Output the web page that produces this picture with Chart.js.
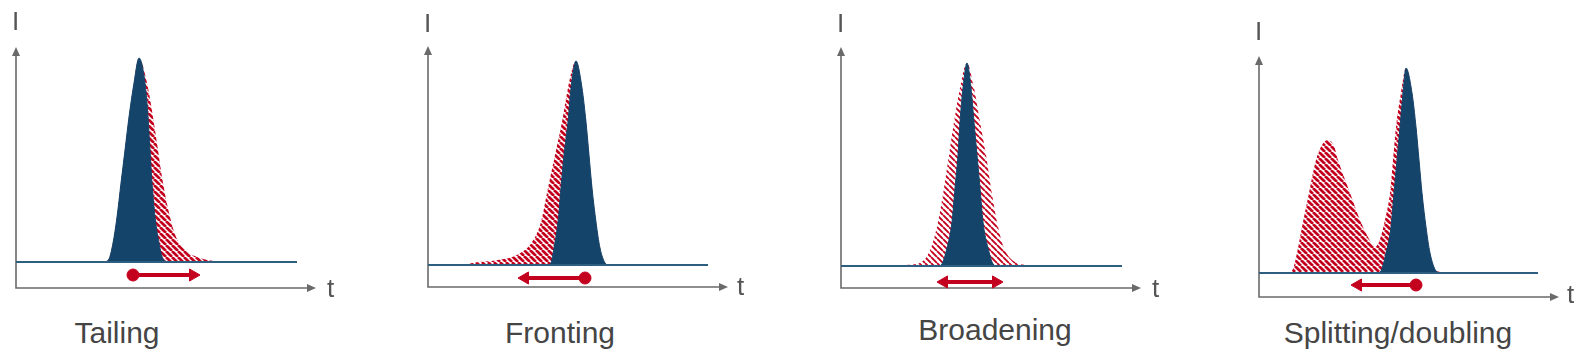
<!DOCTYPE html>
<html>
<head>
<meta charset="utf-8">
<script src="https://cdn.jsdelivr.net/npm/chart.js@4.4.1/dist/chart.umd.min.js"></script>
<style>
  html, body { margin: 0; padding: 0; background: #fff; }
  #stage { position: relative; width: 1587px; height: 356px; overflow: hidden;
           font-family: Arial, "Liberation Sans", sans-serif; color: #454545; }
  #stage canvas { position: absolute; }
  .lbl { position: absolute; font-size: 30px; line-height: 1; white-space: nowrap; transform: translateX(-50%); }
  .ax { position: absolute; font-size: 26px; line-height: 1; color: #555; }
</style>
</head>
<body>
<div id="stage"></div>
<script>
// --- Data: t = px right of the I axis, I = px above the t axis ---
const titles = ['Tailing', 'Fronting', 'Broadening', 'Splitting/doubling'];

const tailingIdeal = [[89,26],[93,29],[97,45],[101,71],[105,105],[109,138],[113,171],[118,205],[123,230],
  [129,205],[132,171],[134,138],[136,105],[139,71],[143,45],[147,29],[151,26]];
const tailingObserved = [[89,26],[93,29],[97,45],[101,71],[105,105],[109,138],[113,171],[118,205],[123,230],
  [131,205],[137,171],[142,138],[147,105],[154,71],[160,51],[169,38],[181,31],[192,28],[203,26]];

const frontingIdeal = [[121,22],[123,24],[126,39],[130,65],[133,99],[136,132],[140,165],[143,199],[148,226],
  [154,199],[158,165],[161,132],[164,99],[168,65],[172,39],[177,24],[180,22]];
const frontingObserved = [[38,22],[44,24],[70,27],[89,32],[104,45],[113,65],[120,99],[127,132],[134,165],[140,199],
  [148,226],[154,199],[158,165],[161,132],[164,99],[168,65],[172,39],[177,24],[180,22]];

const broadeningIdeal = [[98,22],[101,24],[106,40],[111,66],[114,100],[117,133],[119,166],[122,200],[126,225],
  [130,200],[133,166],[136,133],[139,100],[142,66],[147,40],[152,24],[155,22]];
const broadeningObserved = [[56,22],[64,23],[79,25],[90,40],[97,66],[103,100],[108,133],[113,166],[119,200],[126,225],
  [133,200],[139,166],[145,133],[150,100],[156,66],[163,40],[176,25],[187,23],[196,22]];

const splittingIdeal = [[119,24],[122,26],[127,44],[132,70],[135,104],[138,137],[141,170],[144,204],[147,229],
  [153,204],[157,170],[160,137],[163,104],[167,70],[171,44],[177,26],[181,24]];
const splittingObserved = [[30,24],[34,28],[38,44],[43,70],[50,104],[57,137],[63,152],[69,157],[75,151],[79,137],
  [85,120],[91,104],[101,77],[110,58],[116,50],[121,58],[126,77],[131,104],[134,137],[137,170],[142,204],[147,229],
  [153,204],[157,170],[160,137],[163,104],[167,70],[171,44],[177,26],[185,25],[204,24]];

const baselines = [26, 22, 22, 24];
const baselineEnds = [281, 280, 281, 279];

// arrows: first point = start (dot), second = head; broadening has two heads
const tailingShift = [[117,13],[177,13]];
const frontingShift = [[157,9],[97,9]];
const broadeningSpread = [[103,6],[155,6]];
const splittingShift = [[157,12],[99,12]];

// --- Layout ---
const W = 300, H = 241, PAD = 12;
const panels = [
  { ox: 16,   oy: 288, ideal: tailingIdeal,    observed: tailingObserved,    arrow: tailingShift,     both: false, labelX: 117,  labelBase: 343, iBase: 30, tX: 327,  tBase: 297 },
  { ox: 428,  oy: 287, ideal: frontingIdeal,   observed: frontingObserved,   arrow: frontingShift,    both: false, labelX: 560,  labelBase: 343, iBase: 32, tX: 737,  tBase: 295 },
  { ox: 841,  oy: 288, ideal: broadeningIdeal, observed: broadeningObserved, arrow: broadeningSpread, both: true,  labelX: 995,  labelBase: 340, iBase: 32, tX: 1152, tBase: 297 },
  { ox: 1259, oy: 297, ideal: splittingIdeal,  observed: splittingObserved,  arrow: splittingShift,   both: false, labelX: 1398, labelBase: 343, iBase: 40, tX: 1567, tBase: 303 }
];

const BLUE = '#15446a', BASE = '#2f5f80', RED = '#c4001f', AXIS = '#6a6a6a';

function hatch(color, lw) {
  const s = 6, c = document.createElement('canvas');
  c.width = c.height = s;
  const g = c.getContext('2d');
  g.strokeStyle = color; g.lineWidth = lw;
  g.beginPath();
  for (const o of [-s, 0, s]) { g.moveTo(o, 0); g.lineTo(o + s, s); }
  g.stroke();
  return g.createPattern(c, 'repeat');
}

// --- Axis arrows ---
const axisArrows = {
  id: 'axisArrows',
  beforeDatasetsDraw(chart) {
    const { ctx, chartArea: a } = chart;
    ctx.save();
    ctx.strokeStyle = ctx.fillStyle = AXIS;
    ctx.lineWidth = 1.6;
    ctx.beginPath();
    ctx.moveTo(a.left, a.top + 6);
    ctx.lineTo(a.left, a.bottom);
    ctx.lineTo(a.right - 6, a.bottom);
    ctx.stroke();
    ctx.beginPath();
    ctx.moveTo(a.left, a.top); ctx.lineTo(a.left - 4, a.top + 9); ctx.lineTo(a.left + 4, a.top + 9); ctx.closePath();
    ctx.moveTo(a.right, a.bottom); ctx.lineTo(a.right - 9, a.bottom - 4); ctx.lineTo(a.right - 9, a.bottom + 4); ctx.closePath();
    ctx.fill();
    ctx.restore();
  }
};

const toXY = pts => pts.map(([x, y]) => ({ x, y }));
const stage = document.getElementById('stage');

function addText(cls, txt, left, top) {
  const d = document.createElement('div');
  d.className = cls; d.textContent = txt;
  d.style.left = left + 'px'; d.style.top = top + 'px';
  stage.appendChild(d);
}

panels.forEach((p, i) => {
  const cv = document.createElement('canvas');
  cv.width = W + 2 * PAD; cv.height = H + 2 * PAD;
  cv.style.left = (p.ox - PAD) + 'px';
  cv.style.top = (p.oy - H - PAD) + 'px';
  stage.appendChild(cv);

  const base = baselines[i];
  const [a0, a1] = p.arrow;
  const dir = a1[0] > a0[0] ? 90 : -90;
  const styles = p.both ? ['triangle', 'triangle'] : ['circle', 'triangle'];
  const radii = p.both ? [7, 7] : [6, 7];
  const rots = p.both ? [-dir, dir] : [0, dir];

  new Chart(cv, {
    type: 'line',
    data: {
      datasets: [
        { data: toXY(p.arrow), order: 0, borderColor: RED, borderWidth: 4, tension: 0, fill: false, clip: false,
          pointStyle: styles, pointRadius: radii, pointRotation: rots,
          pointBackgroundColor: RED, pointBorderColor: RED, pointBorderWidth: 1 },
        { data: [{ x: 0, y: base }, { x: baselineEnds[i], y: base }], order: 1,
          borderColor: BASE, borderWidth: 2, fill: false, pointRadius: 0 },
        { data: toXY(p.ideal), order: 2, borderColor: BLUE, borderWidth: 1, backgroundColor: BLUE,
          fill: { value: base }, cubicInterpolationMode: 'monotone', pointRadius: 0 },
        { data: toXY(p.observed), order: 3, borderWidth: 0, backgroundColor: hatch(RED, i === 2 ? 1.9 : 2.7),
          fill: { value: base }, cubicInterpolationMode: 'monotone', pointRadius: 0 }
      ]
    },
    options: {
      responsive: false, animation: false, events: [],
      layout: { padding: PAD, autoPadding: false },
      plugins: { legend: { display: false }, tooltip: { enabled: false } },
      scales: {
        x: { type: 'linear', min: 0, max: W, display: false },
        y: { type: 'linear', min: 0, max: H, display: false }
      }
    },
    plugins: [axisArrows]
  });

  addText('lbl', titles[i], p.labelX, p.labelBase - 25.4);
  addText('ax', 'I', p.ox - 4, p.iBase - 22);
  addText('ax', 't', p.tX, p.tBase - 22);
});
</script>
</body>
</html>
